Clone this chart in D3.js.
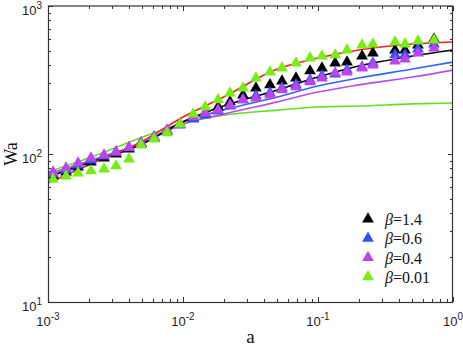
<!DOCTYPE html>
<html>
<head>
<meta charset="utf-8">
<script src="https://d3js.org/d3.v7.min.js"></script>
<style>
    body { margin: 0; background: #fff; }
    .tick-label { font-family: "Liberation Sans", Arial, sans-serif; font-size: 13px; fill: #222; }
    .axis-title { font-family: "Liberation Serif", "Times New Roman", serif; font-size: 19px; fill: #111; }
    .legend-label { font-family: "Liberation Serif", "Times New Roman", serif; font-size: 16px; fill: #111; }
</style>
</head>
<body>
<div id="chart"></div>
<script>
const width = 463, height = 348;
const margin = {left: 48, right: 10, top: 6, bottom: 46};

// measured points (triangles)
const markerA = [0.00109, 0.00136, 0.00167, 0.00208, 0.0026, 0.00319, 0.00398, 0.00489, 0.0061, 0.00761,
                 0.0095, 0.0119, 0.0146, 0.0182, 0.0223, 0.0278, 0.0347, 0.0441, 0.0541, 0.0687,
                 0.0873, 0.107, 0.134, 0.164, 0.212, 0.255, 0.372, 0.441, 0.55, 0.723];
const wa14  = [71.0, 75.6, 81.7, 88.3, 94.0, 100, 108, 117, 128, 143, 159, 175, 189, 208, 225, 250, 279, 293, 311, 326,
               364, 381, 412, 418, 459, 481, 504, 504, 545, 598];
const wa06  = [73.3, 78.0, 84.3, 91.1, 96.9, 103, 110, 119, 130, 143, 157, 172, 183, 195, 211, 232, 247, 258, 279, 293,
               316, 337, 347, 369, 387, 412, 467, 467, 512, 553];
const wa04  = [75.6, 80.4, 86.9, 94.0, 98.4, 103, 111, 119, 130, 145, 159, 178, 189, 198, 214, 232, 239, 250, 271, 284,
               307, 326, 353, 358, 381, 399, 425, 438, 481, 520];
const wa001 = [67.8, 71.0, 74.4, 76.8, 79.2, 83.0, 92.5, 115, 126, 139, 159, 186, 208, 232, 258, 279, 326, 358, 381, 412,
               445, 459, 467, 504, 545, 553, 571, 553, 580, 589];

// model curves
const lineA      = [0.001, 0.002, 0.005, 0.01, 0.02, 0.05, 0.1, 0.2, 0.5, 1];
const lineRed    = [63.7, 84.3, 122, 178, 243, 375, 445, 504, 553, 571];
const lineBlack  = [69.9, 86.9, 117, 165, 211, 271, 331, 393, 459, 504];
const lineBlue   = [71.0, 88.3, 119, 165, 198, 243, 288, 326, 375, 418];
const linePurple = [73.3, 89.7, 119, 159, 186, 225, 262, 293, 331, 369];
const lineGreen  = [75.6, 94.0, 130, 162, 183, 198, 208, 211, 218, 221];

const legendLabels = ["1.4", "0.6", "0.4", "0.01"];

const svg = d3.select("#chart").append("svg")
    .attr("width", width)
    .attr("height", height);

const x = d3.scaleLog().domain([1e-3, 1]).range([margin.left, width - margin.right]);
const y = d3.scaleLog().domain([10, 1000]).range([height - margin.bottom, margin.top]);

svg.append("clipPath").attr("id", "clip")
    .append("rect")
    .attr("x", x.range()[0]).attr("y", y.range()[1])
    .attr("width", x.range()[1] - x.range()[0])
    .attr("height", y.range()[0] - y.range()[1]);

const plot = svg.append("g").attr("clip-path", "url(#clip)");

// curves
const curves = [
    {vals: lineGreen, color: "#66dd22"},
    {vals: linePurple, color: "#b84ee8"},
    {vals: lineBlue, color: "#3366f0"},
    {vals: lineBlack, color: "#000"},
    {vals: lineRed, color: "#ff1a1a"}
];
const line = d3.line()
    .x(d => x(d[0]))
    .y(d => y(d[1]))
    .curve(d3.curveMonotoneX);

plot.selectAll(".curve")
    .data(curves)
    .join("path")
    .attr("class", "curve")
    .attr("fill", "none")
    .attr("stroke", d => d.color)
    .attr("stroke-width", 1.6)
    .attr("d", d => line(lineA.map((a, i) => [a, d.vals[i]])));

// markers
const series = [
    {vals: wa14, color: "#000"},
    {vals: wa06, color: "#3050ff"},
    {vals: wa04, color: "#bb44f0"},
    {vals: wa001, color: "#77ee11"}
];
const tri = d3.symbol().type(d3.symbolTriangle).size(60);

series.forEach(s => {
    plot.append("g")
        .selectAll("path")
        .data(markerA.map((a, i) => [a, s.vals[i]]))
        .join("path")
        .attr("d", tri)
        .attr("transform", d => `translate(${x(d[0])},${y(d[1])})`)
        .attr("fill", s.color);
});

// axes box and ticks
const x0 = x.range()[0], x1 = x.range()[1], y0 = y.range()[0], y1 = y.range()[1];
const axisColor = "#333";

const isMajor = v => Math.abs(Math.log10(v) - Math.round(Math.log10(v))) < 1e-6;

const xt = x.ticks();
const yt = y.ticks();

const ticks = svg.append("g").attr("stroke", axisColor).attr("stroke-width", 1);
xt.forEach(v => {
    const len = isMajor(v) ? 5 : 3;
    const px = Math.round(x(v)) + 0.5;
    ticks.append("line").attr("x1", px).attr("x2", px).attr("y1", y0).attr("y2", y0 - len);
    ticks.append("line").attr("x1", px).attr("x2", px).attr("y1", y1).attr("y2", y1 + len);
});
yt.forEach(v => {
    const len = isMajor(v) ? 5 : 3;
    const py = Math.round(y(v)) + 0.5;
    ticks.append("line").attr("y1", py).attr("y2", py).attr("x1", x0).attr("x2", x0 + len);
    ticks.append("line").attr("y1", py).attr("y2", py).attr("x1", x1).attr("x2", x1 - len);
});

svg.append("rect")
    .attr("x", x0 + 0.5).attr("y", y1)
    .attr("width", x1 - x0 - 1).attr("height", y0 - y1 + 0.5)
    .attr("fill", "none")
    .attr("stroke", axisColor)
    .attr("stroke-width", 1.2);

// tick labels
function powLabel(g, v) {
    const e = Math.round(Math.log10(v));
    g.append("tspan").text("10");
    g.append("tspan").attr("dy", -6).attr("font-size", "10px").text(e);
}

xt.filter(isMajor).forEach(v => {
    const t = svg.append("text")
        .attr("class", "tick-label")
        .attr("x", x(v))
        .attr("y", y0 + 24)
        .attr("text-anchor", "middle");
    powLabel(t, v);
});
yt.filter(isMajor).forEach(v => {
    const t = svg.append("text")
        .attr("class", "tick-label")
        .attr("x", x0 - 6)
        .attr("y", y(v) + 9)
        .attr("text-anchor", "end");
    powLabel(t, v);
});

// axis titles
svg.append("text")
    .attr("class", "axis-title")
    .attr("x", (x0 + x1) / 2)
    .attr("y", 343)
    .attr("text-anchor", "middle")
    .text("a");

svg.append("text")
    .attr("class", "axis-title")
    .attr("transform", `translate(17,${y(100)}) rotate(-90)`)
    .attr("text-anchor", "middle")
    .style("font-size", "18px")
    .text("Wa");

// legend
const legend = svg.append("g");
series.forEach((s, i) => {
    const ly = 219 + i * 19.3;
    legend.append("path")
        .attr("d", tri)
        .attr("transform", `translate(368,${ly})`)
        .attr("fill", s.color);
    const t = legend.append("text")
        .attr("class", "legend-label")
        .attr("x", 385)
        .attr("y", ly + 6);
    t.append("tspan").attr("font-style", "italic").text("β");
    t.append("tspan").text("=" + legendLabels[i]);
});
</script>
</body>
</html>
